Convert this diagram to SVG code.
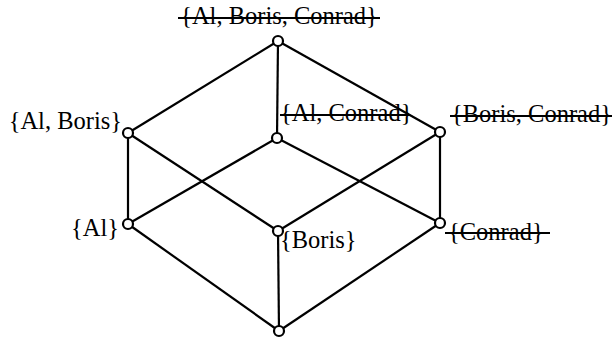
<svg xmlns="http://www.w3.org/2000/svg" width="614" height="339" viewBox="0 0 614 339">
  <style>
    .edge { stroke: #000; stroke-width: 2.2; fill: none; }
    .node circle { fill: #fff; stroke: #000; stroke-width: 2.2; }
    .lbl { font-family: "Liberation Serif", "Times New Roman", serif; font-size: 24.5px; fill: #000; }
    .strike { stroke: #000; stroke-width: 2; }
  </style>
  <rect width="614" height="339" fill="#fff"/>

  <!-- cube edges of the subset lattice -->
  <g id="connectors">
    <line class="edge" x1="278" y1="41" x2="128" y2="133"/>
    <line class="edge" x1="278" y1="41" x2="277" y2="138"/>
    <line class="edge" x1="278" y1="41" x2="440" y2="132"/>
    <line class="edge" x1="128" y1="133" x2="128" y2="224"/>
    <line class="edge" x1="128" y1="133" x2="278" y2="231"/>
    <line class="edge" x1="277" y1="138" x2="128" y2="224"/>
    <line class="edge" x1="277" y1="138" x2="440" y2="223"/>
    <line class="edge" x1="440" y1="132" x2="278" y2="231"/>
    <line class="edge" x1="440" y1="132" x2="440" y2="223"/>
    <line class="edge" x1="128" y1="224" x2="279" y2="331"/>
    <line class="edge" x1="278" y1="231" x2="279" y2="331"/>
    <line class="edge" x1="440" y1="223" x2="279" y2="331"/>
  </g>

  <g id="n-abc" class="node">
    <circle cx="278" cy="41" r="5"/>
    <text class="lbl" x="279" y="24" text-anchor="middle">{Al, Boris, Conrad}</text>
    <line class="strike" x1="178" y1="18" x2="380" y2="18"/>
  </g>
  <g id="n-ab" class="node">
    <circle cx="128" cy="133" r="5"/>
    <text class="lbl" x="122" y="129" text-anchor="end">{Al, Boris}</text>
  </g>
  <g id="n-ac" class="node">
    <circle cx="277" cy="138" r="5"/>
    <text class="lbl" x="280" y="121">{Al, Conrad}</text>
    <line class="strike" x1="280" y1="115" x2="410" y2="115"/>
  </g>
  <g id="n-bc" class="node">
    <circle cx="440" cy="132" r="5"/>
    <text class="lbl" x="451" y="122">{Boris, Conrad}</text>
    <line class="strike" x1="450" y1="116" x2="612" y2="116"/>
  </g>
  <g id="n-a" class="node">
    <circle cx="128" cy="224" r="5"/>
    <text class="lbl" x="119" y="236" text-anchor="end">{Al}</text>
  </g>
  <g id="n-b" class="node">
    <circle cx="278" cy="231" r="5"/>
    <text class="lbl" x="280" y="248">{Boris}</text>
  </g>
  <g id="n-c" class="node">
    <circle cx="440" cy="223" r="5"/>
    <text class="lbl" x="448" y="240">{Conrad}</text>
    <line class="strike" x1="445" y1="233" x2="550" y2="233"/>
  </g>
  <g id="n-empty" class="node">
    <circle cx="279" cy="331" r="5"/>
  </g>
</svg>
